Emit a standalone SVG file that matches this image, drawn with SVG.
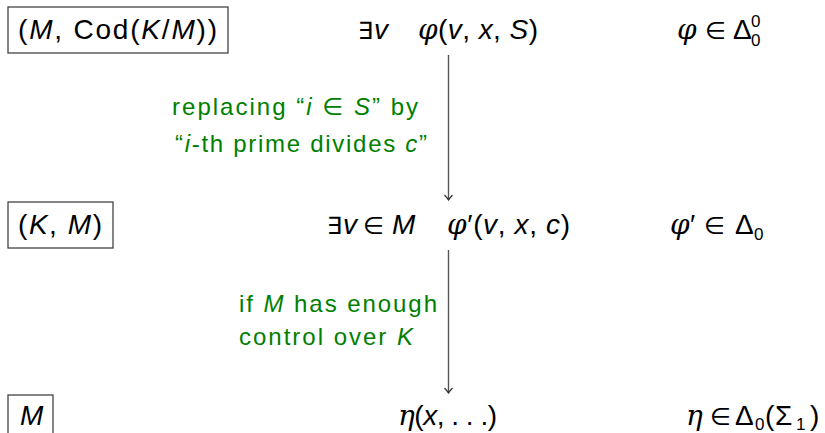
<svg xmlns="http://www.w3.org/2000/svg" width="825" height="433" viewBox="0 0 825 433">
<style>
text{font-family:"Liberation Sans","DejaVu Sans",sans-serif;font-size:28px;fill:#000}
.i{font-style:italic}
.gr{font-family:"DejaVu Serif","Liberation Serif",serif;font-style:italic}
.op{font-family:"DejaVu Sans",sans-serif;font-size:24px}
.s{font-size:17px}
.lab{font-size:24px;fill:#008000}
.box{fill:none;stroke:#444;stroke-width:1.3}
.conn{stroke:#555;stroke-width:1.4;fill:none}
</style>
<defs>
<marker id="to" markerUnits="userSpaceOnUse" markerWidth="12" markerHeight="12" refX="0" refY="0" viewBox="-6 -6 12 12" orient="auto" overflow="visible">
<path d="M-5,-4 Q-1.5,-0.8 0,0 Q-1.5,0.8 -5,4" fill="none" stroke="#333" stroke-width="1.2"/>
</marker>
</defs>
<g id="box1"><rect class="box" x="8" y="7" width="220" height="46"/>
<text x="18" y="39" textLength="199">(<tspan class="i">M</tspan>, Cod(<tspan class="i">K</tspan>/<tspan class="i">M</tspan>))</text></g>
<g id="formula1">
<text class="op" x="358" y="39">∃</text><text class="i" x="374" y="39">v</text>
<text x="418" y="39" textLength="120"><tspan class="gr">φ</tspan>(<tspan class="i">v</tspan>, <tspan class="i">x</tspan>, <tspan class="i">S</tspan>)</text></g>
<g id="class1">
<text class="gr" x="677" y="39">φ</text><text class="op" x="705" y="39">∈</text><text x="733" y="39">Δ</text>
<text class="s" x="751" y="27">0</text><text class="s" x="751" y="46">0</text></g>
<g id="box2"><rect class="box" x="8" y="202" width="105" height="46"/>
<text x="18" y="234" textLength="84">(<tspan class="i">K</tspan>, <tspan class="i">M</tspan>)</text></g>
<g id="formula2">
<text class="op" x="327" y="234">∃</text><text class="i" x="343" y="234">v</text><text class="op" x="363" y="234">∈</text><text class="i" x="392" y="234">M</text>
<text x="447" y="234" textLength="123"><tspan class="gr">φ</tspan>′(<tspan class="i">v</tspan>, <tspan class="i">x</tspan>, <tspan class="i">c</tspan>)</text></g>
<g id="class2">
<text class="gr" x="670" y="234">φ</text><text x="690" y="234">′</text><text class="op" x="704" y="234">∈</text><text x="735" y="234">Δ</text>
<text class="s" x="754" y="240">0</text></g>
<g id="box3"><rect class="box" x="8" y="395" width="45" height="46"/>
<text class="i" x="20" y="425" textLength="23">M</text></g>
<g id="formula3">
<text x="398" y="425" textLength="99"><tspan class="gr">η</tspan>(<tspan class="i">x</tspan>, . . .)</text></g>
<g id="class3">
<text class="gr" x="686" y="425">η</text><text class="op" x="710" y="425">∈</text><text x="735" y="425">Δ</text>
<text class="s" x="755" y="430">0</text>
<text x="765" y="425">(</text><text x="775" y="425">Σ</text>
<text class="s" x="796" y="430">1</text>
<text x="810" y="425">)</text></g>
<g id="connectors">
<line class="conn" x1="448.5" y1="55" x2="448.5" y2="200" marker-end="url(#to)"/>
<line class="conn" x1="448.5" y1="250" x2="448.5" y2="393" marker-end="url(#to)"/>
</g>
<g id="labels">
<text class="lab" x="172" y="115" textLength="246">replacing “<tspan class="i">i</tspan> ∈ <tspan class="i">S</tspan>” by</text>
<text class="lab" x="175" y="152" textLength="252">“<tspan class="i">i</tspan>-th prime divides <tspan class="i">c</tspan>”</text>
<text class="lab" x="239" y="312" textLength="198">if <tspan class="i">M</tspan> has enough</text>
<text class="lab" x="239" y="345" textLength="174">control over <tspan class="i">K</tspan></text>
</g>
</svg>
